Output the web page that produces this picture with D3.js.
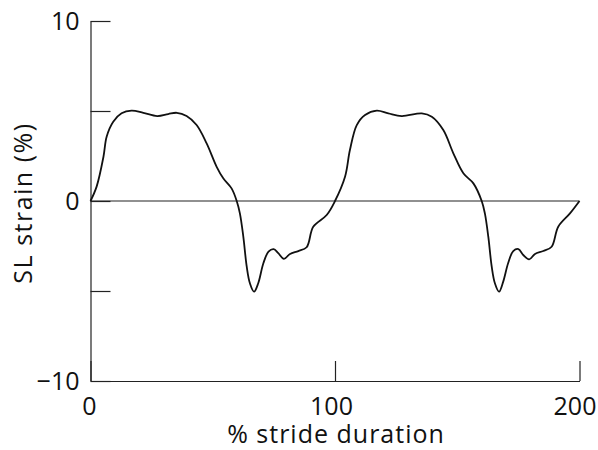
<!DOCTYPE html>
<html>
<head>
<meta charset="utf-8">
<script src="https://cdn.jsdelivr.net/npm/d3@7"></script>
<style>
  body { margin: 0; background: #fff; }
  svg { display: block; }
  text { font-family: "Open Sans", "Noto Sans", sans-serif; fill: #111; }
</style>
</head>
<body>
<svg id="chart" width="598" height="450"></svg>
<script>
// stride position (%) and sarcomere length strain (%)
const strideX = [0, 2.5, 5.3, 6.6, 9.3, 12.7, 16.8, 21.6, 27.3, 31.8, 35.3, 39.3, 43.4, 47.5, 51.6, 54.3, 57.7, 59.8,
    61.1, 62.5, 63.9, 65.2, 66.9, 68.6, 70.7, 72.8, 74.9, 76.8, 79.1, 81.6, 85, 88.4, 91.1, 96.6, 100,
    104.1, 106.1, 108.9, 112.3, 117.1, 121.8, 127.3, 135.5, 139.6, 144.3, 148.4, 152.5, 156.6, 160,
    161.3, 162.7, 164.1, 165.4, 167.1, 168.8, 170.8, 172.9, 175, 177, 179.4, 181.8, 185.2, 188.6, 191.3, 196.1, 200];
const strain = [0, 0.8, 2.46, 3.57, 4.4, 4.87, 5.02, 4.9, 4.72, 4.83, 4.9, 4.72, 4.22, 3.2, 1.9, 1.26, 0.7, 0,
    -0.69, -1.98, -3.65, -4.57, -5.04, -4.57, -3.46, -2.81, -2.67, -2.9, -3.22, -2.94, -2.78, -2.57, -1.43, -0.78, 0,
    1.35, 2.83, 4.22, 4.78, 5.02, 4.87, 4.72, 4.87, 4.68, 3.94, 2.65, 1.54, 0.98, 0,
    -0.69, -1.98, -3.65, -4.57, -5.04, -4.48, -3.46, -2.78, -2.67, -3.0, -3.24, -2.94, -2.78, -2.54, -1.43, -0.69, 0];

const yTicks = [-10, -5, 0, 5, 10];
const yLabelled = [-10, 0, 10];
const xTicks = [0, 100, 200];

const svg = d3.select("#chart");
const x = d3.scaleLinear().domain([0, 200]).range([90.5, 579.5]);
const y = d3.scaleLinear().domain([-10, 10]).range([381, 21]);

const yAxis = d3.axisLeft(y)
    .tickValues(yTicks)
    .tickSizeInner(-20).tickSizeOuter(0).tickPadding(11)
    .tickFormat(d => yLabelled.includes(d) ? d3.format("d")(d) : "");

const xAxis = d3.axisBottom(x)
    .tickValues(xTicks)
    .tickSizeInner(-20).tickSizeOuter(0).tickPadding(16)
    .tickFormat(d3.format("d"));

const gx = svg.append("g").attr("transform", `translate(0,${y(-10)})`).call(xAxis);
const gy = svg.append("g").attr("transform", `translate(${x(0)},0)`).call(yAxis);

[gx, gy].forEach(g => {
    g.select(".domain").attr("stroke", "#222").attr("stroke-width", 1.2);
    g.selectAll(".tick line").attr("stroke", "#222").attr("stroke-width", 1.2);
    g.selectAll(".tick text").attr("font-size", 25).attr("font-family", null).attr("fill", "#111");
});
// the reference nudges the x labels left, the last one most
gx.selectAll(".tick text").attr("dx", d => d === 0 ? -1.5 : d === 200 ? -5 : -4);

// zero line
svg.append("line")
    .attr("x1", x(0)).attr("x2", x(200))
    .attr("y1", y(0)).attr("y2", y(0))
    .attr("stroke", "#222").attr("stroke-width", 1.2);

const line = d3.line()
    .x((d, i) => x(strideX[i]))
    .y(d => y(d))
    .curve(d3.curveCatmullRom.alpha(0.5));

svg.append("path")
    .datum(strain)
    .attr("d", line)
    .attr("fill", "none")
    .attr("stroke", "#111")
    .attr("stroke-width", 1.8);

svg.append("text")
    .attr("x", 336).attr("y", 443)
    .attr("text-anchor", "middle")
    .attr("font-size", 25)
    .attr("letter-spacing", 1)
    .text("% stride duration");

svg.append("text")
    .attr("transform", `translate(32,203) rotate(-90)`)
    .attr("text-anchor", "middle")
    .attr("font-size", 25)
    .attr("letter-spacing", 1.5)
    .text("SL strain (%)");
</script>
</body>
</html>
